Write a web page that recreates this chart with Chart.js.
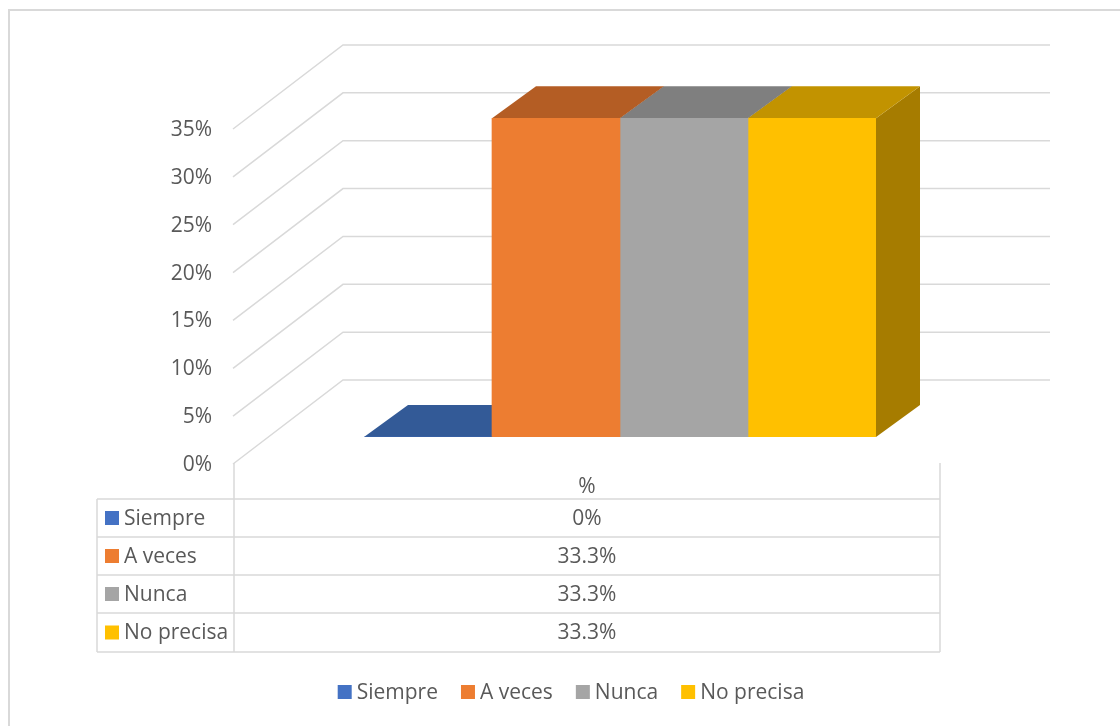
<!DOCTYPE html>
<html>
<head>
<meta charset="utf-8">
<script src="https://cdn.jsdelivr.net/npm/chart.js@4"></script>
<style>
  html, body { margin: 0; padding: 0; background: #fff; }
  #chartContainer { width: 1120px; height: 726px; }
</style>
</head>
<body>
<div id="chartContainer"><canvas id="myChart" width="1120" height="726"></canvas></div>
<script>
// Datos del gráfico
const categories = ['%'];
const seriesNames = ['Siempre', 'A veces', 'Nunca', 'No precisa'];
const seriesValues = [0, 33.3, 33.3, 33.3];
const yTicks = [0, 5, 10, 15, 20, 25, 30, 35];

// Colores (frente, tapa, lado)
const frontColors = ['#4472C4', '#ED7D31', '#A5A5A5', '#FFC000'];
const topColors = ['#335A97', '#B45D24', '#7F7F7F', '#C29300'];
const sideColors = ['#2E5088', '#A0521F', '#6F6F6F', '#A67C00'];

const FONT = '21px "Open Sans", sans-serif';
const TEXT = '#595959';
const GRID = '#D9D9D9';

// Profundidad de la barra y de las paredes
const barDx = 44, barDy = -32;
const wallBackDy = -57;
const wallLeftBack = 343, wallLeftFront = 233, wallRight = 1050, wallDepth = 84;

let ctx = document.getElementById('myChart');

const box3d = {
    id: 'box3d',
    beforeDatasetsDraw(chart) {
        const c = chart.ctx;
        const y = chart.scales.y;
        c.save();
        // borde exterior
        c.strokeStyle = GRID;
        c.lineWidth = 2;
        c.strokeRect(9, 10, 1200, 800);

        // líneas de la cuadrícula (pared trasera y lateral)
        c.lineWidth = 1.5;
        c.font = FONT;
        c.fillStyle = TEXT;
        c.textAlign = 'right';
        c.textBaseline = 'middle';
        yTicks.forEach(v => {
            const yb = y.getPixelForValue(v) + wallBackDy;
            c.beginPath();
            c.moveTo(wallRight, yb);
            c.lineTo(wallLeftBack, yb);
            c.lineTo(wallLeftFront, yb + wallDepth);
            c.stroke();
            c.fillText(v + '%', 212, yb + wallDepth + 1);
        });

        // caras laterales y superiores
        const bars = chart.data.datasets.map((ds, i) => chart.getDatasetMeta(i).data[0]);
        bars.forEach((b, i) => {
            const r = b.x + b.width / 2;
            c.fillStyle = sideColors[i];
            c.beginPath();
            c.moveTo(r, b.y);
            c.lineTo(r + barDx, b.y + barDy);
            c.lineTo(r + barDx, b.base + barDy);
            c.lineTo(r, b.base);
            c.closePath();
            c.fill();
        });
        bars.forEach((b, i) => {
            const l = b.x - b.width / 2, r = b.x + b.width / 2;
            c.fillStyle = topColors[i];
            c.beginPath();
            c.moveTo(l, b.y);
            c.lineTo(r, b.y);
            c.lineTo(r + barDx, b.y + barDy);
            c.lineTo(l + barDx, b.y + barDy);
            c.closePath();
            c.fill();
        });
        c.restore();
    },
    afterDraw(chart) {
        const c = chart.ctx;
        c.save();
        // tabla de datos
        const rows = [499, 537, 575, 613, 652];
        const colL = 97, colM = 234, colR = 940;
        c.strokeStyle = GRID;
        c.lineWidth = 1.5;
        c.beginPath();
        c.moveTo(colM, 463); c.lineTo(colM, 652);
        c.moveTo(colR, 463); c.lineTo(colR, 652);
        c.moveTo(colL, 499); c.lineTo(colL, 652);
        rows.forEach(ry => { c.moveTo(colL, ry); c.lineTo(colR, ry); });
        c.stroke();

        c.font = FONT;
        c.fillStyle = TEXT;
        c.textBaseline = 'middle';
        c.textAlign = 'center';
        const cx = (colM + colR) / 2;
        c.fillText(categories[0], cx, 487);
        seriesNames.forEach((name, i) => {
            const my = (rows[i] + rows[i + 1]) / 2;
            c.fillStyle = frontColors[i];
            c.fillRect(105, my - 7, 14, 14);
            c.fillStyle = TEXT;
            c.textAlign = 'left';
            c.fillText(name, 124, my + 1);
            c.textAlign = 'center';
            c.fillText(seriesValues[i] + '%', cx, my + 1);
        });

        // leyenda
        const gap = 23, sq = 14, sqGap = 5;
        const widths = seriesNames.map(n => c.measureText(n).width);
        const total = widths.reduce((a, w) => a + sq + sqGap + w, 0) + gap * (seriesNames.length - 1);
        let lx = 571 - total / 2;
        const ly = 692;
        c.textAlign = 'left';
        seriesNames.forEach((name, i) => {
            c.fillStyle = frontColors[i];
            c.fillRect(lx, ly - 7, sq, sq);
            c.fillStyle = TEXT;
            c.fillText(name, lx + sq + sqGap, ly + 1);
            lx += sq + sqGap + widths[i] + gap;
        });
        c.restore();
    }
};

let chart = new Chart(ctx, {
    type: 'bar',
    data: {
        labels: categories,
        datasets: seriesNames.map((name, i) => ({
            label: name,
            data: [seriesValues[i]],
            backgroundColor: frontColors[i],
            borderWidth: 0,
            categoryPercentage: 1,
            barPercentage: 1
        }))
    },
    options: {
        responsive: false,
        animation: false,
        layout: { padding: { top: 102, bottom: 289, left: 364, right: 244 } },
        plugins: { legend: { display: false }, tooltip: { enabled: false } },
        scales: {
            x: { display: false },
            y: { display: false, min: 0, max: 35 }
        }
    },
    plugins: [box3d]
});
</script>
</body>
</html>
